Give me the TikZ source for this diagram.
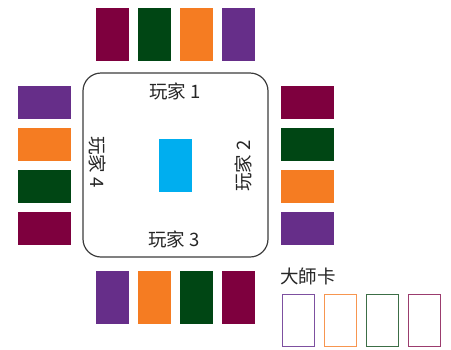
\documentclass[tikz,border=0pt]{standalone}
\usepackage{fontspec}
\setmainfont{Noto Sans CJK TC}
\definecolor{cmaroon}{RGB}{126,0,62}
\definecolor{cgreen}{RGB}{0,70,20}
\definecolor{corange}{RGB}{245,124,34}
\definecolor{cpurple}{RGB}{102,46,137}
\definecolor{cblue}{RGB}{0,174,239}
\definecolor{cframe}{RGB}{60,60,60}
\definecolor{mpurple}{RGB}{125,80,160}
\definecolor{morange}{RGB}{247,150,80}
\definecolor{mgreen}{RGB}{60,110,70}
\definecolor{mmaroon}{RGB}{155,60,110}
\begin{document}
\begin{tikzpicture}[x=1pt,y=-1pt,
  vcard/.style={fill=#1,inner sep=0,minimum width=33pt,minimum height=53pt,anchor=north west,draw=none},
  hcard/.style={fill=#1,inner sep=0,minimum width=53pt,minimum height=33pt,anchor=north west,draw=none},
  mcard/.style={fill=#1,inner sep=0,minimum width=33pt,minimum height=53pt,anchor=north west,draw=none,
    path picture={\fill[white] ([shift={(1.1pt,-1.1pt)}]path picture bounding box.north west) rectangle ([shift={(-1.1pt,1.1pt)}]path picture bounding box.south east);}},
  lbl/.style={font=\fontsize{18.5}{18.5}\selectfont,text=black!85,inner sep=0}]
\useasboundingbox (0,0) rectangle (451,349);
% table
\draw[cframe,line width=1.2pt,rounded corners=18pt] (83,73) rectangle (268,257);
\node[lbl] (p1) at (175,91) {玩家 1};
\node[lbl] (p3) at (174,239) {玩家 3};
\node[lbl,rotate=-90] (p4) at (98,162) {玩家 4};
\node[lbl,rotate=90] (p2) at (243,166) {玩家 2};
\node[vcard=cblue] (center) at (159,139) {};
% top
\node[vcard=cmaroon] (t1) at (96,8) {};
\node[vcard=cgreen] (t2) at (138,8) {};
\node[vcard=corange] (t3) at (180,8) {};
\node[vcard=cpurple] (t4) at (222,8) {};
% bottom
\node[vcard=cpurple] (b1) at (96,271) {};
\node[vcard=corange] (b2) at (138,271) {};
\node[vcard=cgreen] (b3) at (180,271) {};
\node[vcard=cmaroon] (b4) at (222,271) {};
% left
\node[hcard=cpurple] (l1) at (18,86) {};
\node[hcard=corange] (l2) at (18,128) {};
\node[hcard=cgreen] (l3) at (18,170) {};
\node[hcard=cmaroon] (l4) at (18,212) {};
% right
\node[hcard=cmaroon] (r1) at (281,86) {};
\node[hcard=cgreen] (r2) at (281,128) {};
\node[hcard=corange] (r3) at (281,170) {};
\node[hcard=cpurple] (r4) at (281,212) {};
% master cards
\node[lbl,anchor=west] (master) at (280,276) {大師卡};
\node[mcard=mpurple] (m1) at (282,294) {};
\node[mcard=morange] (m2) at (324,294) {};
\node[mcard=mgreen] (m3) at (366,294) {};
\node[mcard=mmaroon] (m4) at (408,294) {};
\end{tikzpicture}
\end{document}
